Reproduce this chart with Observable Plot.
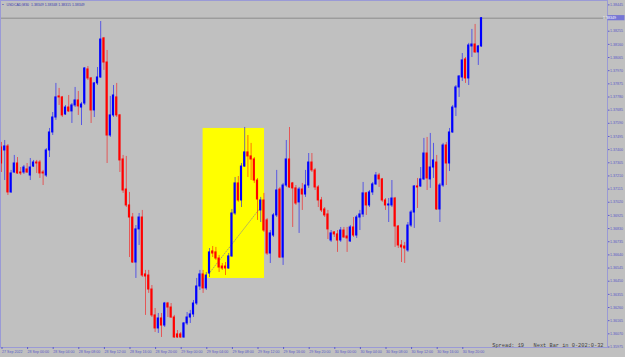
<!DOCTYPE html>
<html><head><meta charset="utf-8">
<script src="https://cdn.jsdelivr.net/npm/d3@7"></script>
<script src="https://cdn.jsdelivr.net/npm/@observablehq/plot@0.6"></script>
<style>
html,body{margin:0;padding:0;background:#c0c0c0;}
#chart{position:relative;width:625px;height:357px;overflow:hidden;}
</style></head><body><div id="chart"></div>
<script>
const symbolTitle = "USDCAD,M30  1.38349 1.38348 1.38315 1.38349";
const infoText = "Spread: 19   Next Bar in 0-202:0-32";

const open = [
1.37416,1.37394,1.37423,1.37091,1.37235,1.37300,1.37235,1.37235,1.37257,1.37213,
1.37278,1.37307,1.37307,1.37235,1.37213,1.37394,1.37524,1.37632,1.37784,1.37777,
1.37654,1.37704,1.37676,1.37719,1.37755,1.37704,1.37733,1.37979,1.37914,1.37683,
1.37878,1.37921,1.38203,1.38029,1.37502,1.37647,1.37777,1.37647,1.37329,1.37112,
1.36997,1.36910,1.36585,1.36824,1.36910,1.36499,1.36491,1.36390,1.36203,1.36109,
1.36181,1.36130,1.36289,1.36260,1.36188,1.36066,1.36066,1.36044,1.36145,1.36188,
1.36210,1.36289,1.36412,1.36499,1.36398,1.36506,1.36665,1.36658,1.36614,1.36556,
1.36556,1.36542,1.36629,1.36939,1.37156,1.37033,1.37278,1.37380,1.37351,1.37329,
1.37177,1.36961,1.37033,1.36889,1.36650,1.36780,1.36925,1.37112,1.36621,1.37141,
1.37329,1.37156,1.37120,1.37019,1.37112,1.37076,1.37141,1.37307,1.37250,1.37127,
1.37033,1.36968,1.36932,1.36744,1.36802,1.36788,1.36744,1.36816,1.36773,1.36737,
1.36838,1.36780,1.36910,1.36932,1.37084,1.36997,1.37091,1.37149,1.37213,1.37185,
1.37033,1.36997,1.36997,1.37047,1.36845,1.36708,1.36701,1.36672,1.36852,1.36946,
1.37134,1.37134,1.37185,1.37372,1.37185,1.37271,1.37307,1.36968,1.37141,1.37430,
1.37300,1.37524,1.37704,1.37849,1.37921,1.38051,1.37914,1.38145,1.38159,1.38102,
1.38145];
const high = [
1.37452,1.37466,1.37437,1.37250,1.37358,1.37343,1.37271,1.37286,1.37300,1.37336,
1.37322,1.37322,1.37322,1.37250,1.37408,1.37553,1.37668,1.37878,1.37842,1.37784,
1.37719,1.37791,1.37733,1.37849,1.37820,1.37741,1.37993,1.38000,1.37921,1.37885,
1.37993,1.38325,1.38210,1.38116,1.37784,1.37863,1.37878,1.37654,1.37358,1.37351,
1.37091,1.36939,1.36852,1.36939,1.36961,1.36528,1.36528,1.36419,1.36253,1.36217,
1.36217,1.36297,1.36297,1.36289,1.36203,1.36094,1.36080,1.36152,1.36224,1.36239,
1.36311,1.36470,1.36528,1.36528,1.36513,1.36686,1.36701,1.36694,1.36636,1.36578,
1.36585,1.36650,1.36968,1.37199,1.37206,1.37300,1.37560,1.37502,1.37445,1.37343,
1.37192,1.37055,1.37084,1.36903,1.36816,1.36939,1.37250,1.37127,1.37156,1.37466,
1.37560,1.37163,1.37141,1.37127,1.37156,1.37250,1.37372,1.37372,1.37264,1.37141,
1.37055,1.36982,1.36961,1.36816,1.36809,1.36816,1.36838,1.36838,1.36838,1.36852,
1.36910,1.36925,1.36961,1.37163,1.37091,1.37105,1.37163,1.37235,1.37228,1.37192,
1.37047,1.37047,1.37177,1.37055,1.36852,1.36744,1.36730,1.36874,1.36961,1.37141,
1.37192,1.37271,1.37481,1.37488,1.37517,1.37445,1.37358,1.37156,1.37445,1.37452,
1.37553,1.37719,1.37863,1.37935,1.38094,1.38065,1.38167,1.38268,1.38304,1.38152,
1.38354];
const low = [
1.37235,1.37177,1.37069,1.37084,1.37228,1.37221,1.37213,1.37221,1.37228,1.37177,
1.37271,1.37228,1.37192,1.37141,1.37199,1.37343,1.37502,1.37611,1.37719,1.37632,
1.37647,1.37668,1.37589,1.37704,1.37647,1.37574,1.37719,1.37899,1.37589,1.37632,
1.37863,1.37914,1.37972,1.37300,1.37488,1.37632,1.37632,1.37235,1.37084,1.36982,
1.36621,1.36578,1.36470,1.36708,1.36477,1.36203,1.36362,1.36188,1.36080,1.36073,
1.36044,1.36116,1.36188,1.36181,1.36037,1.36037,1.36037,1.36037,1.36130,1.36145,
1.36188,1.36275,1.36383,1.36362,1.36383,1.36477,1.36621,1.36600,1.36513,1.36528,
1.36491,1.36535,1.36621,1.36925,1.37019,1.36982,1.37271,1.37199,1.37177,1.37156,
1.36889,1.36874,1.36802,1.36636,1.36578,1.36766,1.36910,1.36614,1.36564,1.37127,
1.37120,1.36838,1.36997,1.36795,1.36961,1.37055,1.37120,1.37235,1.37105,1.36982,
1.36946,1.36910,1.36751,1.36730,1.36766,1.36658,1.36730,1.36759,1.36658,1.36730,
1.36766,1.36759,1.36816,1.36910,1.36925,1.36982,1.37069,1.37141,1.37127,1.37019,
1.36961,1.36874,1.36982,1.36694,1.36686,1.36585,1.36578,1.36658,1.36838,1.36831,
1.36975,1.37127,1.37177,1.37105,1.37120,1.37192,1.36961,1.36874,1.37127,1.37141,
1.37242,1.37517,1.37639,1.37777,1.37892,1.37878,1.37863,1.38065,1.38094,1.38008,
1.38138];
const close = [
1.37300,1.37423,1.37091,1.37228,1.37300,1.37228,1.37228,1.37271,1.37235,1.37271,
1.37307,1.37300,1.37228,1.37228,1.37394,1.37524,1.37632,1.37777,1.37777,1.37647,
1.37704,1.37676,1.37719,1.37755,1.37712,1.37726,1.37986,1.37914,1.37683,1.37878,
1.37921,1.38195,1.38029,1.37502,1.37647,1.37791,1.37647,1.37322,1.37105,1.36997,
1.36910,1.36585,1.36824,1.36910,1.36491,1.36484,1.36390,1.36203,1.36109,1.36181,
1.36130,1.36289,1.36260,1.36188,1.36044,1.36044,1.36044,1.36145,1.36188,1.36210,
1.36289,1.36412,1.36499,1.36398,1.36491,1.36658,1.36650,1.36614,1.36549,1.36542,
1.36542,1.36629,1.36939,1.37156,1.37033,1.37278,1.37380,1.37351,1.37329,1.37177,
1.37040,1.37033,1.36816,1.36650,1.36795,1.36925,1.37105,1.36621,1.37141,1.37329,
1.37127,1.37120,1.37011,1.37112,1.37076,1.37141,1.37307,1.37250,1.37127,1.37033,
1.36961,1.36925,1.36824,1.36795,1.36788,1.36744,1.36816,1.36766,1.36759,1.36838,
1.36780,1.36910,1.36932,1.37084,1.36997,1.37091,1.37149,1.37213,1.37185,1.37033,
1.36997,1.37004,1.37047,1.36845,1.36708,1.36694,1.36686,1.36852,1.36946,1.37134,
1.37127,1.37185,1.37372,1.37192,1.37271,1.37322,1.36968,1.37141,1.37430,1.37300,
1.37524,1.37704,1.37849,1.37928,1.38044,1.37914,1.38152,1.38159,1.38102,1.38145,
1.38349];

const tickBars = [0,8,16,24,32,40,48,56,64,72,80,88,96,104,112,120,128,136,144];
const tickLabels = ["27 Sep 2022","28 Sep 00:00","28 Sep 04:00","28 Sep 08:00","28 Sep 12:00","28 Sep 16:00","28 Sep 20:00","29 Sep 00:00","29 Sep 04:00","29 Sep 08:00","29 Sep 12:00","29 Sep 16:00","29 Sep 20:00","30 Sep 00:00","30 Sep 04:00","30 Sep 08:00","30 Sep 12:00","30 Sep 16:00","30 Sep 20:00"];
const yTicks = [1.35975,1.36070,1.36165,1.36260,1.36355,1.36450,1.36545,1.36640,1.36735,1.36830,1.36925,1.37020,1.37115,1.37210,1.37305,1.37400,1.37495,1.37590,1.37685,1.37780,1.37875,1.37970,1.38065,1.38160,1.38255,1.38445];

const zoneBars = [63, 82.2];
const zonePrices = [1.36470, 1.37553];
const trendBars = [64.8, 80.4];
const trendPrices = [1.36504, 1.36966];

const bars = open.map((o, i) => ({i, o, h: high[i], l: low[i], c: close[i], up: close[i] > o}));
const zone = [{x1: zoneBars[0], x2: zoneBars[1], y1: zonePrices[0], y2: zonePrices[1]}];
const trend = trendBars.map((b, k) => ({i: b, p: trendPrices[k]}));
const last = close[close.length - 1];
const fontFam = "'Liberation Sans', Arial, sans-serif";

const plot = Plot.plot({
  width: 625, height: 357,
  marginLeft: 0, marginRight: 18, marginTop: 0, marginBottom: 10,
  style: {background: "#c0c0c0", fontFamily: fontFam},
  x: {type: "linear", domain: [0, 150], range: [1, 481]},
  y: {domain: [1.35975, 1.38445], range: [346.5, 4.4]},
  marks: [
    Plot.rect(zone, {x1: "x1", x2: "x2", y1: "y1", y2: "y2", fill: "#ffff00"}),
    Plot.ruleY([last], {stroke: "#8c8c8c", strokeWidth: 1}),
    Plot.line(trend, {x: "i", y: "p", stroke: "#8a8a8a", strokeWidth: 0.8, strokeDasharray: "1,1.5"}),
    Plot.ruleX(bars, {x: "i", y1: "l", y2: "h", stroke: d => d.up ? "#0000ff" : "#ff0000", strokeOpacity: 0.55, strokeWidth: 1}),
    Plot.rect(bars, {x1: d => d.i - 0.34, x2: d => d.i + 0.34, y1: d => Math.min(d.o, d.c), y2: d => Math.max(d.o, d.c),
      fill: d => d.up ? "#0000ff" : "#ff0000", insetTop: -0.5, insetBottom: -0.5}),
    Plot.frame({stroke: "#9a9ad6"}),
    Plot.axisY(yTicks, {anchor: "right", tickSize: 1.5, tickPadding: 1, tickFormat: d => d.toFixed(5), fontSize: 3.6, color: "#5a5ac8"}),
    Plot.axisX(tickBars, {anchor: "bottom", tickSize: 2, tickPadding: 0.5, textAnchor: "start", dx: 0.5,
      tickFormat: d => tickLabels[tickBars.indexOf(d)], fontSize: 3.6, color: "#5a5ac8"}),
    Plot.text([symbolTitle], {frameAnchor: "top-left", dx: 6, dy: 4, fontSize: 3.5, fill: "#3c3cae", textAnchor: "start", lineAnchor: "middle"}),
    Plot.text(["▪"], {frameAnchor: "top-left", dx: 2.5, dy: 4, fontSize: 4, fill: "#3c3cae", textAnchor: "middle", lineAnchor: "middle"}),
    Plot.text([infoText], {frameAnchor: "bottom-right", dx: -4, dy: -1, fontSize: 5.3, fill: "#404040", textAnchor: "end", lineAnchor: "bottom",
      fontFamily: "'Liberation Mono', 'DejaVu Sans Mono', monospace"})
  ]
});

// current price marker on the right axis, positioned with the plot's own y scale
const yy = plot.scale("y").apply(last);
const g = d3.select(plot).append("g");
g.append("rect").attr("x", 607.5).attr("y", yy - 2.6).attr("width", 17).attr("height", 5.2).attr("fill", "#7676d6");
g.append("text").attr("x", 609.5).attr("y", yy).attr("dy", "0.35em").attr("font-size", 3.6)
  .attr("font-family", fontFam).attr("fill", "#ffffff").text(last.toFixed(5));

document.getElementById("chart").appendChild(plot);
</script>
</body></html>
